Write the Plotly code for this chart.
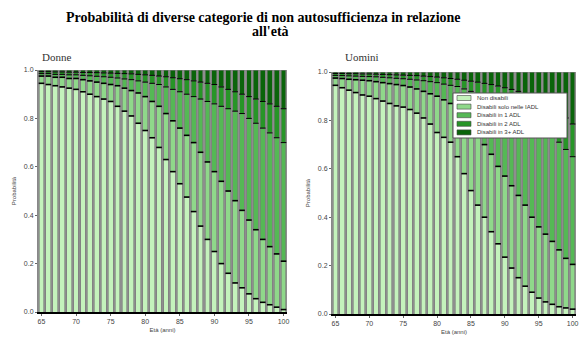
import plotly.graph_objects as go
import numpy as np

ages = list(range(65, 101))
categories = ["Non disabili", "Disabili solo nelle IADL", "Disabili in 1 ADL",
              "Disabili in 2 ADL", "Disabili in 3+ ADL"]
colors = ["#c4f2bc", "#8fd88a", "#55b855", "#279527", "#0a640a"]

# Donne (women) - share of each category per age
donne_non_dis = [.945,.940,.935,.930,.925,.920,.910,.900,.890,.880,.870,.850,.830,.810,.780,.750,.720,.680,
                 .630,.580,.530,.475,.415,.355,.300,.250,.200,.160,.120,.100,.075,.055,.040,.030,.020,.010]
donne_iadl = [.030,.035,.035,.040,.040,.045,.050,.055,.060,.065,.070,.085,.095,.105,.125,.140,.150,.170,
              .190,.210,.230,.255,.285,.305,.320,.330,.340,.340,.340,.320,.305,.285,.260,.240,.220,.200]
donne_adl1 = [.010,.010,.012,.012,.015,.015,.018,.021,.024,.027,.030,.032,.038,.045,.050,.060,.075,.090,
              .110,.130,.150,.170,.190,.220,.250,.280,.310,.340,.370,.400,.420,.440,.460,.470,.480,.490]
donne_adl2 = [.008,.008,.010,.010,.011,.011,.012,.014,.015,.016,.017,.019,.022,.024,.027,.030,.033,.035,
              .042,.048,.054,.060,.065,.070,.075,.080,.080,.080,.080,.080,.090,.100,.110,.120,.130,.140]
donne_adl3 = [.007,.007,.008,.008,.009,.009,.010,.010,.011,.012,.013,.014,.015,.016,.018,.020,.022,.025,
              .028,.032,.036,.040,.045,.050,.055,.060,.070,.080,.090,.100,.110,.120,.130,.140,.150,.160]

# Uomini (men)
uomini_non_dis = [.945,.935,.925,.915,.905,.900,.890,.880,.870,.860,.855,.845,.830,.810,.785,.750,.730,.710,
                  .650,.580,.510,.450,.400,.340,.290,.235,.190,.150,.115,.090,.066,.050,.040,.030,.025,.020]
uomini_iadl = [.030,.038,.045,.053,.061,.064,.070,.076,.082,.088,.089,.093,.100,.110,.125,.150,.155,.160,
               .200,.250,.290,.310,.300,.320,.320,.335,.340,.340,.335,.310,.294,.280,.260,.235,.205,.185]
uomini_adl1 = [.011,.012,.014,.015,.016,.017,.020,.022,.024,.026,.028,.032,.037,.044,.050,.056,.065,.075,
               .090,.100,.120,.150,.200,.230,.270,.300,.325,.350,.370,.400,.420,.430,.440,.445,.450,.445]
uomini_adl2 = [.008,.009,.009,.010,.010,.011,.011,.012,.013,.014,.015,.016,.018,.019,.021,.023,.026,.028,
               .030,.036,.042,.048,.053,.058,.062,.065,.073,.080,.090,.100,.110,.115,.120,.130,.130,.135]
uomini_adl3 = [.006,.006,.007,.007,.008,.008,.009,.010,.011,.012,.013,.014,.015,.017,.019,.021,.024,.027,
               .030,.034,.038,.042,.047,.052,.058,.065,.072,.080,.090,.100,.110,.125,.140,.160,.190,.215]

x_ticks = [65, 70, 75, 80, 85, 90, 95, 100]
y_ticks = [0, 0.2, 0.4, 0.6, 0.8, 1.0]
y_tick_text = ["0.0", "0.2", "0.4", "0.6", "0.8", "1.0"]

title_lines = ["Probabilità di diverse categorie di non autosufficienza in relazione", "all'età"]
panel_titles = ["Donne", "Uomini"]
x_title = "Età (anni)"
y_title = "Probabilità"

fig = go.Figure()

panels = [
    ("x", "y", [donne_non_dis, donne_iadl, donne_adl1, donne_adl2, donne_adl3]),
    ("x2", "y2", [uomini_non_dis, uomini_iadl, uomini_adl1, uomini_adl2, uomini_adl3]),
]

for xa, ya, series in panels:
    for name, vals, col in zip(categories, series, colors):
        fig.add_trace(go.Bar(x=ages, y=vals, name=name, marker=dict(color=col, line=dict(color="#7a7a7a", width=0.6)),
                             xaxis=xa, yaxis=ya, showlegend=False))
    cum = np.cumsum(np.array(series), axis=0)
    for k in range(4):
        fig.add_trace(go.Scatter(x=ages, y=cum[k], mode="markers", xaxis=xa, yaxis=ya, showlegend=False,
                                 marker=dict(symbol="line-ew", size=4,
                                             line=dict(color="black", width=1.6 if k < 2 else 1.0)),
                                 hoverinfo="skip"))

tick_font = dict(family="Liberation Sans, Arial", size=7, color="#444")
title_font = dict(family="Liberation Sans", size=6, color="#444")
axis_common = dict(showgrid=False, zeroline=False, ticks="outside", ticklen=2, tickcolor="#666",
                   tickfont=tick_font, automargin=False)

fig.update_layout(
    width=583, height=340,
    margin=dict(l=0, r=0, t=0, b=0, autoexpand=False),
    paper_bgcolor="white", plot_bgcolor="#8e8e8e",
    barmode="stack", bargap=0.3,
    showlegend=False,
    xaxis=dict(domain=[38 / 583, 287 / 583], range=[64.5, 100.5], tickvals=x_ticks, anchor="y",
               showline=True, linecolor="black", linewidth=1.5,
               title=dict(text=x_title, font=title_font, standoff=4),
               **axis_common),
    yaxis=dict(domain=[28 / 340, 270 / 340], range=[0, 1], tickvals=y_ticks, ticktext=y_tick_text, anchor="x",
               showline=True, linecolor="#888", linewidth=1,
               title=dict(text=y_title, font=title_font, standoff=6),
               **axis_common),
    xaxis2=dict(domain=[332 / 583, 576 / 583], range=[64.5, 100.5], tickvals=x_ticks, anchor="y2",
                showline=True, linecolor="black", linewidth=1.5,
                title=dict(text=x_title, font=title_font, standoff=4),
                **axis_common),
    yaxis2=dict(domain=[26 / 340, 268 / 340], range=[0, 1], tickvals=y_ticks, ticktext=y_tick_text, anchor="x2",
                showline=True, linecolor="#888", linewidth=1,
                title=dict(text=y_title, font=title_font, standoff=6),
                **axis_common),
)

title_font_big = dict(family="Liberation Serif, Times New Roman", size=14, color="black")
annotations = [
    dict(text="<b>" + title_lines[0] + "</b>", x=263 / 583, y=1 - 17 / 340, xref="paper", yref="paper",
         xanchor="center", yanchor="middle", showarrow=False, font=title_font_big),
    dict(text="<b>" + title_lines[1] + "</b>", x=270 / 583, y=1 - 31 / 340, xref="paper", yref="paper",
         xanchor="center", yanchor="middle", showarrow=False, font=title_font_big),
    dict(text=panel_titles[0], x=40 / 583, y=1 - 49 / 340, xref="paper", yref="paper",
         xanchor="left", yanchor="top", showarrow=False,
         font=dict(family="Liberation Serif", size=11, color="#333")),
    dict(text=panel_titles[1], x=343 / 583, y=1 - 49 / 340, xref="paper", yref="paper",
         xanchor="left", yanchor="top", showarrow=False,
         font=dict(family="Liberation Serif", size=11, color="#333")),
]

# manual legend inside the right panel
lx0, lx1, ly0, ly1 = 453, 567, 93, 138
shapes = [dict(type="rect", xref="paper", yref="paper", x0=lx0 / 583, x1=lx1 / 583,
               y0=1 - ly1 / 340, y1=1 - ly0 / 340, fillcolor="white", line=dict(color="#555", width=1), layer="above")]
for i, (name, col) in enumerate(zip(categories, colors)):
    yc = ly0 + 5 + i * 8.6
    shapes.append(dict(type="rect", xref="paper", yref="paper", x0=457 / 583, x1=471 / 583,
                       y0=1 - (yc + 2.5) / 340, y1=1 - (yc - 2.5) / 340, fillcolor=col,
                       line=dict(color="#444", width=0.6), layer="above"))
    annotations.append(dict(text=name, x=475 / 583, y=1 - yc / 340, xref="paper", yref="paper",
                            xanchor="left", yanchor="middle", showarrow=False,
                            font=dict(family="Liberation Sans", size=6, color="#333")))

fig.update_layout(annotations=annotations, shapes=shapes)
fig.write_html("out.html", config={"displayModeBar": False},
               post_script="document.body.style.margin='0px';")
